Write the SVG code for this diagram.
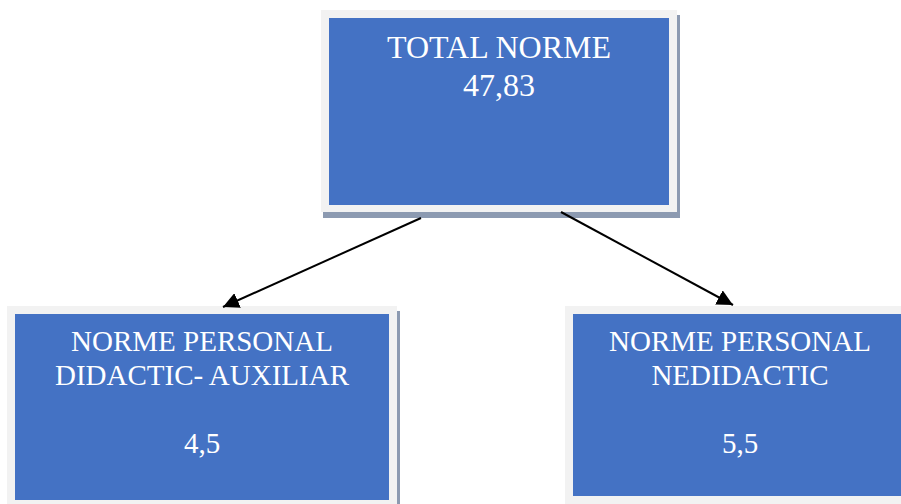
<svg xmlns="http://www.w3.org/2000/svg" width="901" height="504" viewBox="0 0 901 504">
<defs>
<style>
.shadow{fill:#8c9ab1}
.frame{fill:#f2f2f2}
.box{fill:#4472c4}
.t{font-family:"Liberation Serif","Times New Roman",serif;fill:#ffffff;text-anchor:middle}
.top{font-size:32px}
.sub{font-size:29px}
.conn{stroke:#000000;stroke-width:2;fill:none;marker-end:url(#arr)}
</style>
<marker id="arr" viewBox="0 0 10 10" refX="10" refY="5" markerWidth="8" markerHeight="8" orient="auto" markerUnits="strokeWidth">
<path d="M0,0 L10,5 L0,10 Z" fill="#000000"/>
</marker>
</defs>
<rect width="901" height="504" fill="#ffffff"/>
<g id="total">
<rect class="shadow" x="323" y="15" width="357" height="203"/>
<rect class="frame" x="321" y="10" width="356" height="202"/>
<rect class="box" x="329" y="18" width="340" height="187"/>
<text class="t top" x="499" y="58">TOTAL NORME</text>
<text class="t top" x="499" y="96">47,83</text>
</g>
<g id="didactic">
<rect class="shadow" x="9" y="311" width="391" height="200"/>
<rect class="frame" x="7" y="306" width="390" height="204"/>
<rect class="box" x="15" y="314" width="374" height="186"/>
<text class="t sub" x="202" y="351">NORME PERSONAL</text>
<text class="t sub" x="202" y="385">DIDACTIC- AUXILIAR</text>
<text class="t sub" x="202" y="453">4,5</text>
</g>
<g id="nedidactic">
<rect class="frame" x="565" y="306" width="340" height="204"/>
<rect class="box" x="573" y="314" width="332" height="182"/>
<text class="t sub" x="740" y="351">NORME PERSONAL</text>
<text class="t sub" x="740" y="385">NEDIDACTIC</text>
<text class="t sub" x="740" y="453">5,5</text>
</g>
<g id="connectors">
<line class="conn" x1="421" y1="218" x2="223" y2="307"/>
<line class="conn" x1="561" y1="212" x2="733" y2="305"/>
</g>
</svg>
